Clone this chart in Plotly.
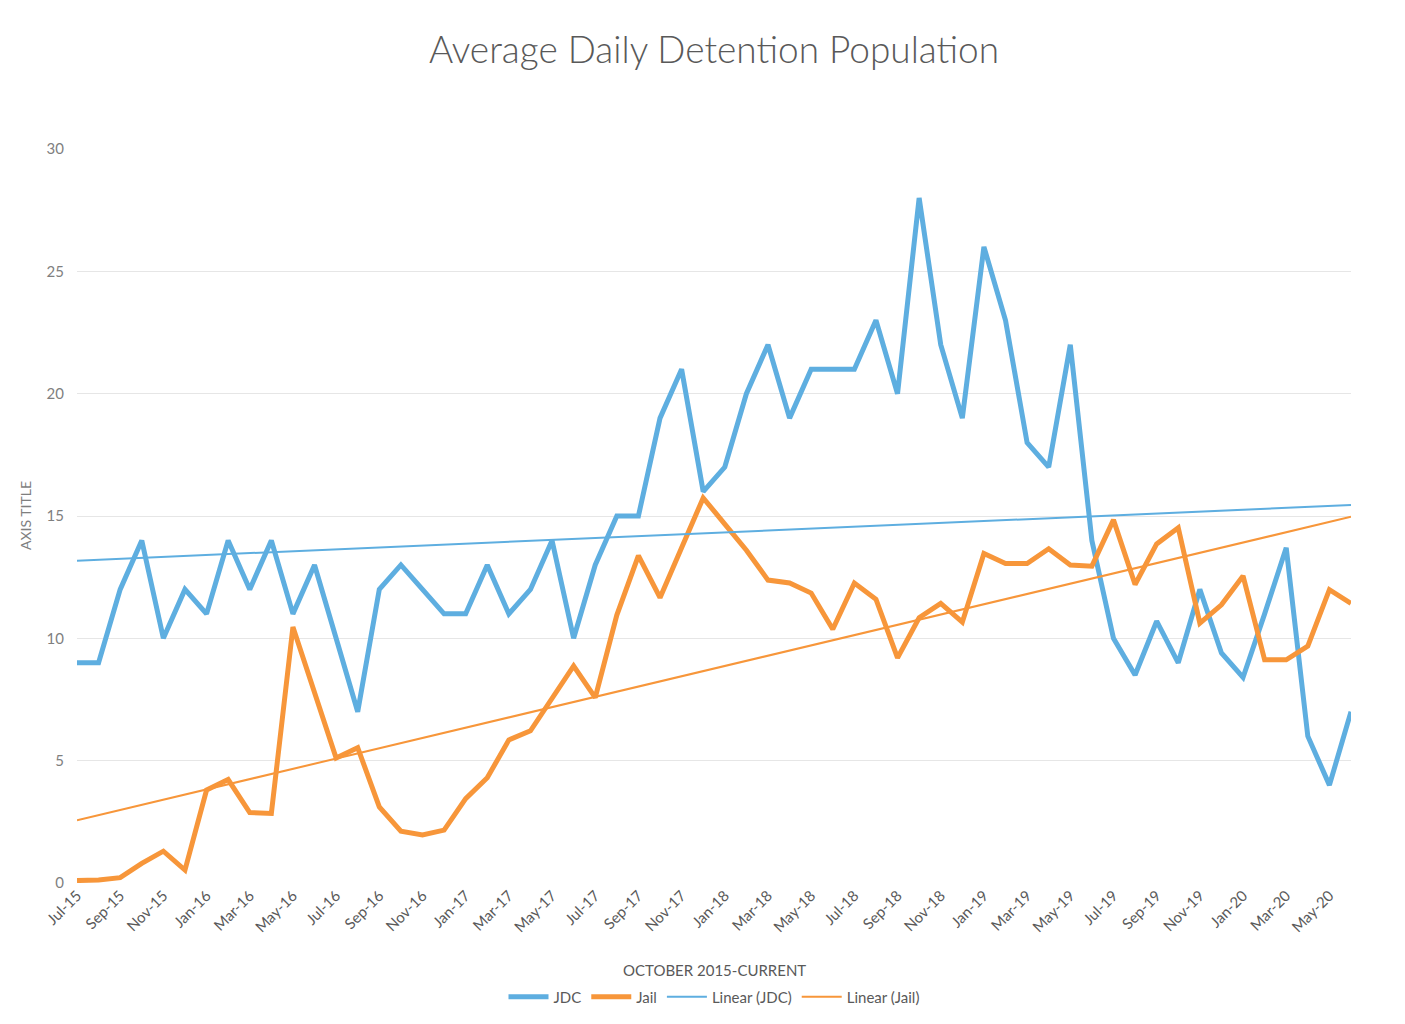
import numpy as np
import plotly.graph_objects as go

months = ["Jul-15","Aug-15","Sep-15","Oct-15","Nov-15","Dec-15",
          "Jan-16","Feb-16","Mar-16","Apr-16","May-16","Jun-16",
          "Jul-16","Aug-16","Sep-16","Oct-16","Nov-16","Dec-16",
          "Jan-17","Feb-17","Mar-17","Apr-17","May-17","Jun-17",
          "Jul-17","Aug-17","Sep-17","Oct-17","Nov-17","Dec-17",
          "Jan-18","Feb-18","Mar-18","Apr-18","May-18","Jun-18",
          "Jul-18","Aug-18","Sep-18","Oct-18","Nov-18","Dec-18",
          "Jan-19","Feb-19","Mar-19","Apr-19","May-19","Jun-19",
          "Jul-19","Aug-19","Sep-19","Oct-19","Nov-19","Dec-19",
          "Jan-20","Feb-20","Mar-20","Apr-20","May-20","Jun-20"]

jdc = [9, 9, 12, 14, 10, 12, 11, 14, 12, 14, 11, 13,
       10, 7, 12, 13, 12, 11, 11, 13, 11, 12, 14, 10,
       13, 15, 15, 19, 21, 16, 17, 20, 22, 19, 21, 21,
       21, 23, 20, 28, 22, 19, 26, 23, 18, 17, 22, 14,
       10, 8.5, 10.7, 9, 12, 9.4, 8.4, 11, 13.7, 6, 4, 7]

jail = [0.1, 0.12, 0.22, 0.8, 1.3, 0.53, 3.8, 4.23, 2.88, 2.84, 10.46, 7.8,
        5.11, 5.53, 3.11, 2.12, 1.96, 2.16, 3.45, 4.3, 5.85, 6.22, 7.5, 8.87,
        7.58, 10.95, 13.38, 11.66, 13.7, 15.74, 14.67, 13.6, 12.38, 12.26, 11.85, 10.37,
        12.26, 11.6, 9.2, 10.84, 11.43, 10.66, 13.47, 13.06, 13.06, 13.66, 13.0, 12.95,
        14.84, 12.2, 13.86, 14.52, 10.62, 11.37, 12.55, 9.12, 9.12, 9.68, 11.99, 11.43]

tick_labels = months[::2]

BLUE = "#5EAEE0"
ORANGE = "#F7963A"
GRAY = "#595959"
FONT = "Lato"

idx = np.arange(1, len(months) + 1)
jdc_fit = np.polyval(np.polyfit(idx, jdc, 1), idx)
jail_fit = np.polyval(np.polyfit(idx, jail, 1), idx)

fig = go.Figure()
fig.add_trace(go.Scatter(x=months, y=jdc, mode="lines", name="JDC",
                         line=dict(color=BLUE, width=5)))
fig.add_trace(go.Scatter(x=months, y=jail, mode="lines", name="Jail",
                         line=dict(color=ORANGE, width=5)))
fig.add_trace(go.Scatter(x=months, y=jdc_fit, mode="lines", name="Linear (JDC)",
                         line=dict(color=BLUE, width=2)))
fig.add_trace(go.Scatter(x=months, y=jail_fit, mode="lines", name="Linear (Jail)",
                         line=dict(color=ORANGE, width=2)))

# page body adds ~8px offset; margins compensate
fig.update_layout(
    width=1405, height=1024,
    paper_bgcolor="white", plot_bgcolor="white",
    margin=dict(l=69, r=62, t=141, b=149),
    font=dict(family=FONT, color=GRAY),
    title=dict(text="Average Daily Detention Population", x=0.5, xanchor="center",
               xref="paper",
               y=1 - 42 / 1024, yanchor="middle",
               font=dict(family=FONT, size=37, color=GRAY, weight=300)),
    showlegend=True,
    legend=dict(orientation="h", x=0.5, xanchor="center",
                y=(883 - 997) / 734, yanchor="middle",
                font=dict(size=15, color=GRAY), itemwidth=40,
                bgcolor="rgba(0,0,0,0)"),
    xaxis=dict(type="category", categoryorder="array", categoryarray=months,
               range=[0, len(months) - 1],
               tickmode="array", tickvals=tick_labels, ticktext=tick_labels,
               tickangle=-45, tickfont=dict(size=15, color=GRAY),
               showgrid=False, zeroline=False, showline=False, ticks=""),
    yaxis=dict(range=[0, 30], dtick=5, tickfont=dict(size=15, color="#7f7f7f"),
               showgrid=True, gridcolor="#e6e6e6", gridwidth=1,
               zeroline=False, showline=False, ticks="", ticklabelstandoff=12),
    annotations=[
        dict(text="OCTOBER 2015-CURRENT", xref="paper", yref="paper",
             x=0.5, y=(883 - 970) / 734, xanchor="center", yanchor="middle",
             showarrow=False, font=dict(size=15, color=GRAY)),
        dict(text="AXIS TITLE", xref="paper", yref="paper",
             x=(25 - 77) / 1274, y=(883 - 516) / 734, xanchor="center", yanchor="middle",
             textangle=-90, showarrow=False, font=dict(size=14, color="#7f7f7f")),
    ],
)

fig.write_html("out.html")
